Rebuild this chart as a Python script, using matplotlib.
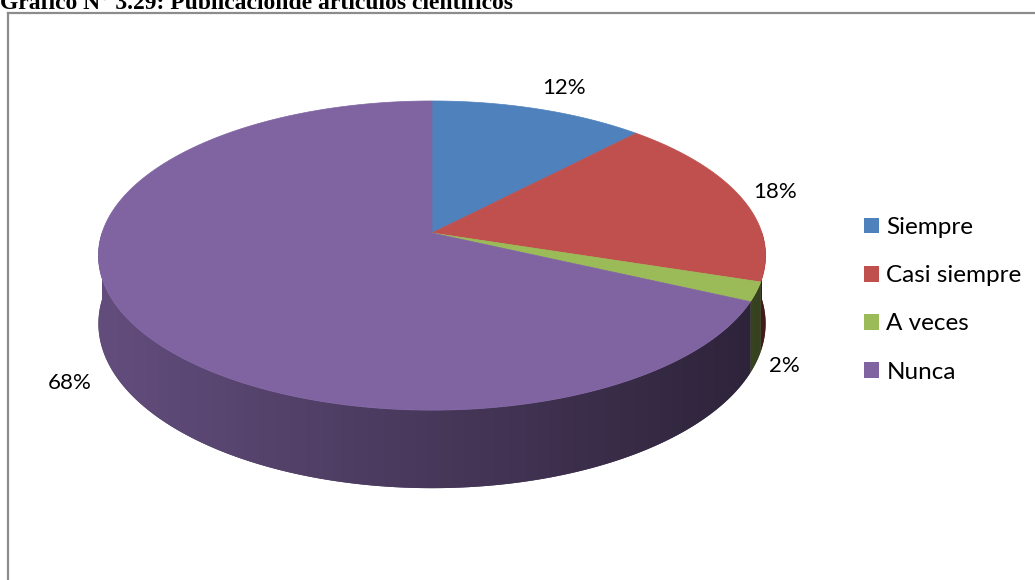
import numpy as np
import matplotlib
matplotlib.use("Agg")
import matplotlib.pyplot as plt
from matplotlib.patches import Polygon, Patch
import matplotlib.colors as mcolors

# ---------------- data ----------------
title = "Gráfico N° 3.29: Publicaciónde artículos científicos"
categories = ["Siempre", "Casi siempre", "A veces", "Nunca"]
values = [12, 18, 2, 68]
pct_labels = ["12%", "18%", "2%", "68%"]
colors = ["#4F81BD", "#C0504D", "#9BBB59", "#8064A2"]

# ---------------- layout ----------------
W, H = 1035, 580
CX, CY = 432, 233          # projected centre of the pie top
RX, RY = 330, 151.3        # radii of the pie top
K = 0.146                  # perspective strength
DEPTH = 66.6               # thickness of the pie
label_pos = [(564, 88), (775, 192), (784, 366), (70, 383)]
FONT = ["Lato", "DejaVu Sans"]

fig = plt.figure(figsize=(W / 100, H / 100), dpi=100)
ax = fig.add_axes([0, 0, 1, 1])
ax.set_xlim(0, W)
ax.set_ylim(H, 0)
ax.axis("off")

# frame (top and left border visible, rest outside the picture)
fax = fig.add_axes([7.5 / W, -0.2, 1.2, 1.2 - 12.5 / H], zorder=-1)
fax.set_xticks([]); fax.set_yticks([])
fax.patch.set_alpha(0)
for s in ["right", "bottom"]:
    fax.spines[s].set_visible(False)
for s in ["top", "left"]:
    fax.spines[s].set_color("#8c8c8c")
    fax.spines[s].set_linewidth(1.6)


def proj(theta, rho=1.0, z=0.0):
    u = rho * np.sin(theta)
    v = rho * np.cos(theta)
    f = 1.0 / (1.0 + K * v)
    return CX + RX * u * f, CY - RY * v * f + z * f


def shade(u):
    return 0.56 - 0.21 * u


vals = np.asarray(values, dtype=float)
fr = vals / vals.sum()
edges = np.concatenate([[0], np.cumsum(fr)]) * 2 * np.pi

# ---- side walls (front half only), shaded with a horizontal gradient ----
for i, col in enumerate(colors):
    a0, a1 = edges[i], edges[i + 1]
    lo, hi = max(a0, np.pi / 2), min(a1, 3 * np.pi / 2)
    if hi <= lo:
        continue
    n = max(3, int((hi - lo) / 0.004))
    th = np.linspace(lo, hi, n)
    xt, yt = proj(th)
    xb, yb = proj(th[::-1], z=DEPTH)
    pts = np.column_stack([np.concatenate([xt, xb]), np.concatenate([yt, yb])])
    base = np.array(mcolors.to_rgb(col))
    side = Polygon(pts, closed=True, facecolor=base * shade(np.sin(0.5 * (lo + hi))),
                   edgecolor="none")
    ax.add_patch(side)
    x0, x1 = pts[:, 0].min() - 1, pts[:, 0].max() + 1
    y0, y1 = pts[:, 1].min() - 1, pts[:, 1].max() + 1
    gx = np.linspace(x0, x1, 400)
    u = np.clip((gx - CX) / RX, -1, 1)
    row = np.clip(base[None, :] * shade(u)[:, None], 0, 1)
    img = np.repeat(row[None, :, :], 2, axis=0)
    im = ax.imshow(img, extent=(x0, x1, y1, y0), aspect="auto",
                   interpolation="bilinear", zorder=1.5)
    im.set_clip_path(side)
ax.set_xlim(0, W)
ax.set_ylim(H, 0)

# ---- top faces ----
for i, col in enumerate(colors):
    a0, a1 = edges[i], edges[i + 1]
    n = max(3, int((a1 - a0) / 0.004))
    th = np.linspace(a0, a1, n)
    xs, ys = proj(th)
    pts = [(CX, CY)] + list(zip(xs, ys))
    ax.add_patch(Polygon(pts, closed=True, facecolor=col, edgecolor=col,
                         lw=0.5, zorder=2))

# ---- data labels ----
for lab, (lx, ly) in zip(pct_labels, label_pos):
    ax.text(lx, ly, lab, ha="center", va="center", fontsize=16,
            family=FONT, color="#000000", zorder=3)

# ---- legend ----
handles = [Patch(facecolor=c, edgecolor="none") for c in colors]
leg = fig.legend(handles, categories, loc="upper left",
                 bbox_to_anchor=(864 / W, 1 - 217 / H),
                 frameon=False, prop={"family": FONT, "size": 17.5},
                 handlelength=0.62, handleheight=0.62, handletextpad=0.3,
                 labelspacing=1.12, borderpad=0, borderaxespad=0)

# ---- title (cut at the top edge, as in the reference) ----
fig.text(0.0, 1 - 9 / H, title, ha="left", va="baseline",
         family=["Liberation Serif", "DejaVu Serif"], weight="bold",
         fontsize=17, color="#000000")

fig.savefig("out.png", dpi=100)
